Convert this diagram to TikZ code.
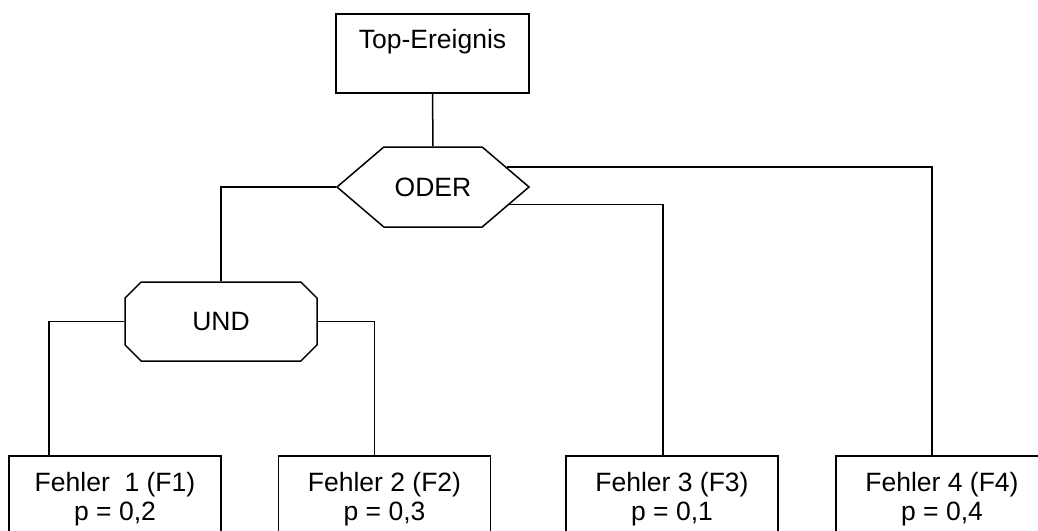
\documentclass[tikz,border=0pt]{standalone}
\usepackage{fontspec}
\setmainfont{Liberation Sans}
\usetikzlibrary{shapes.symbols,shapes.misc}
\tikzset{
  topbox/.style={draw, line width=1.5pt, anchor=north, minimum width=193pt,
    inner ysep=16pt, text height=19pt, text depth=28pt},
  orgate/.style={draw, line width=1.5pt, shape=signal, signal to=west and east,
    signal pointer angle=81, minimum width=192pt, minimum height=80pt},
  andgate/.style={draw, line width=1.5pt, chamfered rectangle, chamfered rectangle xsep=22.5pt,
    chamfered rectangle angle=45, minimum width=192pt, minimum height=79pt},
  faultbox/.style={draw, line width=1.5pt, anchor=north, minimum width=212pt,
    inner ysep=17pt, align=center},
  link/.style={line width=1.5pt}
}

\begin{document}
\begin{tikzpicture}[x=1pt, y=-1pt, font=\fontsize{26.5}{29}\selectfont]
\useasboundingbox (0,0) rectangle (1038,530);
\clip (0,0) rectangle (1038,530);
% Top event
\node[topbox] (top) at (432.5,13) {Top-Ereignis};
% Gates
\node[orgate] (oder) at (433,187) {ODER};
\node[andgate] (und) at (221,321.5) {UND};
% Faults
\node[faultbox] (f1) at (115,455) {Fehler~ 1 (F1)\\p = 0,2};
\node[faultbox] (f2) at (384.5,455) {Fehler 2 (F2)\\p = 0,3};
\node[faultbox] (f3) at (672,455) {Fehler 3 (F3)\\p = 0,1};
\node[faultbox] (f4) at (942,455) {Fehler 4 (F4)\\p = 0,4};
% Links
\draw[link] (top.south) -- (oder.north);
\draw[link] (oder.west) -| (und.north);
\draw[link] (oder.15.4) -| ([xshift=-10pt]f4.north);
\draw[link] (oder.-13.5) -| ([xshift=-9pt]f3.north);
\draw[link] (und.west) -| ([xshift=-66pt]f1.north);
\draw[link] (und.east) -| ([xshift=-10pt]f2.north);
\end{tikzpicture}
\end{document}
